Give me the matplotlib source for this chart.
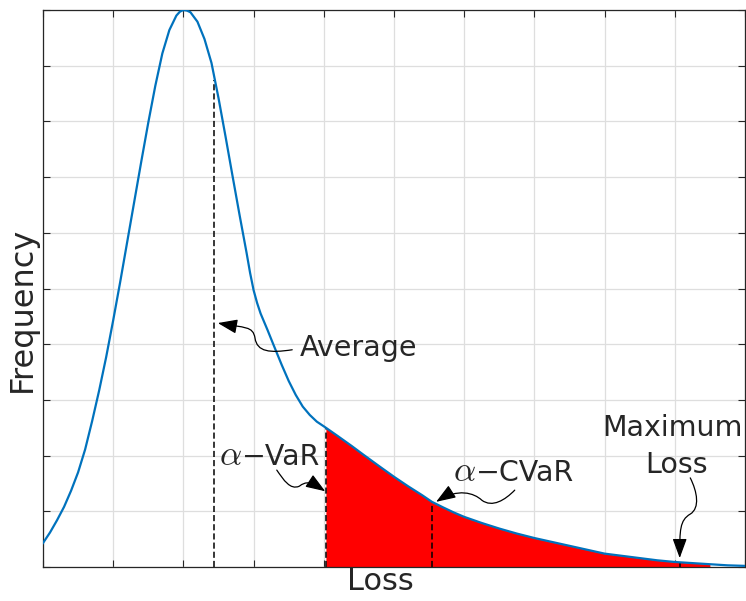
import numpy as np
import matplotlib
matplotlib.use("Agg")
import matplotlib.pyplot as plt
from matplotlib.path import Path
from matplotlib.patches import FancyArrowPatch

plt.rcParams['font.family'] = ['DejaVu Sans']
plt.rcParams['mathtext.fontset'] = 'cm'

# loss distribution (axis units 0..10, no tick labels)
loss = [0.00, 0.10, 0.20, 0.30, 0.40, 0.50, 0.60, 0.70, 0.80, 0.90,
        1.00, 1.10, 1.20, 1.30, 1.40, 1.50, 1.60, 1.70, 1.80, 1.90,
        1.95, 2.00, 2.05, 2.10, 2.20, 2.30, 2.40, 2.50, 2.60, 2.70,
        2.80, 2.90, 2.95, 3.00, 3.05, 3.10, 3.20, 3.28, 3.40, 3.50,
        3.60, 3.70, 3.80, 3.90, 4.03, 4.20, 4.40, 4.56, 4.80, 5.00,
        5.20, 5.40, 5.54, 5.70, 5.85, 6.00, 6.25, 6.50, 6.75, 7.00,
        7.25, 7.50, 7.75, 8.00, 8.25, 8.50, 8.75, 9.00, 9.25, 9.50,
        9.75, 10.0]
freq = [0.43, 0.62, 0.84, 1.08, 1.37, 1.70, 2.11, 2.62, 3.17, 3.77,
        4.43, 5.12, 5.84, 6.56, 7.28, 7.98, 8.64, 9.22, 9.64, 9.90,
        9.97, 10.0, 9.99, 9.96, 9.79, 9.48, 9.05, 8.42, 7.73, 7.02,
        6.32, 5.64, 5.28, 4.97, 4.74, 4.55, 4.25, 4.00, 3.63, 3.34,
        3.09, 2.88, 2.73, 2.61, 2.50, 2.35, 2.17, 2.02, 1.80, 1.62,
        1.45, 1.29, 1.17, 1.07, 0.98, 0.90, 0.79, 0.69, 0.60, 0.52,
        0.45, 0.38, 0.31, 0.24, 0.20, 0.16, 0.12, 0.09, 0.07, 0.05,
        0.03, 0.02]

# marker lines: average, VaR, CVaR, maximum loss (x position, curve height)
mark_x = [2.44, 4.03, 5.54, 9.07]
mark_top = [8.75, 2.50, 1.17, 0.09]

tail_start = 4.03
tail_end = 9.5

loss = np.array(loss)
freq = np.array(freq)

fig = plt.figure(figsize=(7.46, 6.01), dpi=100)
ax = fig.add_axes([43 / 746, 34 / 601, 702 / 746, 557 / 601])

tail = (loss >= tail_start) & (loss <= tail_end)
ax.fill_between(loss[tail], 0, freq[tail], color='#ff0000', lw=0, zorder=1)
ax.vlines(mark_x, 0, mark_top, colors='k', linestyles=(0, (4, 2)), lw=1.1, zorder=2)
ax.plot(loss, freq, color='#0072BD', lw=1.6, zorder=3)

ax.set_xlim(0, 10)
ax.set_ylim(0, 10)
ax.set_xticks(np.arange(0, 11, 1))
ax.set_yticks(np.arange(0, 11, 1))
ax.set_xticklabels([])
ax.set_yticklabels([])
ax.tick_params(direction='in', length=5, width=0.8, color='#262626',
               top=True, right=True)
ax.grid(True, color='#dedede', lw=0.9)
ax.set_axisbelow(True)
for s in ax.spines.values():
    s.set_color('#262626')
    s.set_linewidth(0.9)

ax.set_xlabel('Loss', fontsize=22, color='#262626')
ax.xaxis.set_label_coords(0.481, 0.0)
ax.set_ylabel('Frequency', fontsize=23, color='#262626')
ax.yaxis.set_label_coords(-0.008, 0.463)

txt = dict(color='#262626', fontsize=20.5, va='baseline')
alpha = dict(color='#262626', fontsize=25, va='baseline', ha='right')
ax.text(3.66, 3.79, 'Average', ha='left', **txt)
ax.text(2.84, 1.83, r'$\alpha$', **alpha)
ax.text(2.84, 1.83, '\u2212VaR', ha='left', **txt)
ax.text(6.17, 1.54, r'$\alpha$', **alpha)
ax.text(6.17, 1.54, '\u2212CVaR', ha='left', **txt)
ax.text(8.97, 2.35, 'Maximum', ha='center', **txt)
ax.text(9.02, 1.69, 'Loss', ha='center', **txt)

# curly arrows, two cubic segments each
arrows = [
    [(3.55, 3.90), (3.23, 3.84), (3.05, 3.86), (3.02, 4.11), (2.99, 4.33), (2.88, 4.29), (2.49, 4.38)],
    [(3.33, 1.74), (3.43, 1.56), (3.52, 1.38), (3.65, 1.45), (3.75, 1.54), (3.80, 1.54), (4.02, 1.36)],
    [(6.72, 1.38), (6.58, 1.20), (6.40, 1.06), (6.25, 1.20), (6.14, 1.33), (5.91, 1.42), (5.60, 1.17)],
    [(9.22, 1.60), (9.32, 1.35), (9.36, 1.06), (9.22, 0.95), (9.07, 0.84), (9.07, 0.66), (9.07, 0.16)],
]
codes = [Path.MOVETO] + [Path.CURVE4] * 6
for verts in arrows:
    p = FancyArrowPatch(path=Path(verts, codes),
                        arrowstyle='-|>,head_length=0.6,head_width=0.22',
                        mutation_scale=20, lw=0.9, color='k', zorder=4)
    ax.add_patch(p)

fig.savefig('out.png', dpi=100)
